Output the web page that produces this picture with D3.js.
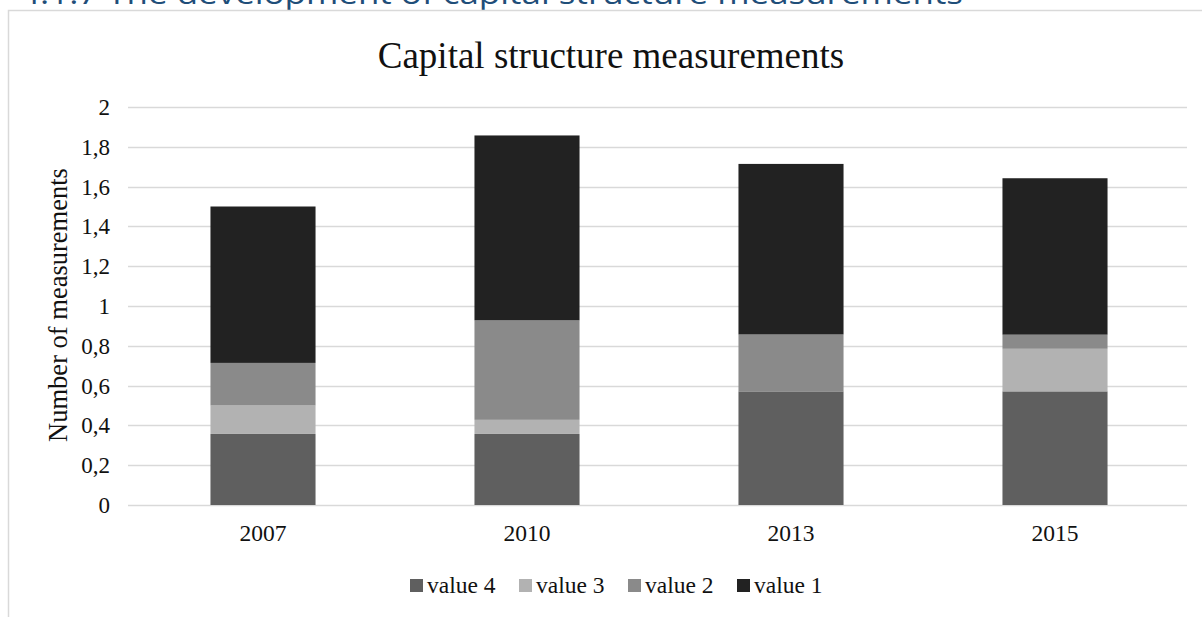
<!DOCTYPE html>
<html>
<head>
<meta charset="utf-8">
<script src="https://cdn.jsdelivr.net/npm/d3@7"></script>
<style>
  html, body { margin: 0; padding: 0; background: #ffffff; }
  svg { display: block; }
</style>
</head>
<body>
<svg id="chart" width="1202" height="617"></svg>
<script>
// ---- data ----
const categories = ["2007", "2010", "2013", "2015"];
const seriesNames = ["value 4", "value 3", "value 2", "value 1"];
const value4 = [0.357, 0.357, 0.571, 0.571];
const value3 = [0.143, 0.071, 0.0, 0.214];
const value2 = [0.214, 0.500, 0.286, 0.071];
const value1 = [0.786, 0.929, 0.857, 0.786];
const yTicks = [0, 0.2, 0.4, 0.6, 0.8, 1, 1.2, 1.4, 1.6, 1.8, 2];
const seriesColors = ["#5f5f5f", "#b2b2b2", "#8a8a8a", "#222222"];

const headingText = "4.1.7   The development of capital structure measurements";
const chartTitle = "Capital structure measurements";
const yAxisTitle = "Number of measurements";

// table for stacking
const table = categories.map((c, i) => ({
  cat: c,
  "value 4": value4[i],
  "value 3": value3[i],
  "value 2": value2[i],
  "value 1": value1[i]
}));

const svg = d3.select("#chart");
const serif = "'Liberation Serif', 'Times New Roman', serif";

// page heading (cut off at top, as in the source page)
svg.append("text")
  .attr("x", 20).attr("y", 4)
  .style("font-family", "'Open Sans', 'Noto Sans', sans-serif")
  .style("font-size", "30px")
  .attr("fill", "#1f4e79")
  .attr("textLength", 943)
  .attr("lengthAdjust", "spacingAndGlyphs")
  .text(headingText);

// chart area border (top + left)
svg.append("rect")
  .attr("x", 8.5).attr("y", 10.5)
  .attr("width", 1300).attr("height", 700)
  .attr("fill", "#ffffff")
  .attr("stroke", "#d9d9d9").attr("stroke-width", 1.5);

const plot = { left: 131, right: 1187, top: 107, bottom: 505 };

const x = d3.scaleBand()
  .domain(categories)
  .range([plot.left, plot.right])
  .paddingInner(0.602)
  .paddingOuter(0.301);

const y = d3.scaleLinear()
  .domain([0, 2])
  .range([plot.bottom, plot.top]);

const color = d3.scaleOrdinal().domain(seriesNames).range(seriesColors);

// gridlines
svg.append("g")
  .selectAll("line")
  .data(yTicks)
  .join("line")
  .attr("x1", plot.left - 3).attr("x2", plot.right)
  .attr("y1", d => Math.round(y(d)) + 0.5)
  .attr("y2", d => Math.round(y(d)) + 0.5)
  .attr("stroke", "#d9d9d9")
  .attr("stroke-width", 1.5);

// y axis tick labels
const yAxis = d3.axisLeft(y)
  .tickValues(yTicks)
  .tickSize(0)
  .tickPadding(0)
  .tickFormat(d => d3.format("~g")(d).replace(".", ","));

const gy = svg.append("g")
  .attr("transform", `translate(110,0)`)
  .call(yAxis);
gy.attr("font-family", null).attr("font-size", null);
gy.select(".domain").remove();
gy.selectAll("text")
  .style("font-family", serif)
  .style("font-size", "23px")
  .attr("fill", "#111")
  .attr("dy", "0.33em");

// stacked bars
const stack = d3.stack().keys(seriesNames);
const stacked = stack(table);

svg.append("g")
  .selectAll("g")
  .data(stacked)
  .join("g")
  .attr("fill", d => color(d.key))
  .selectAll("rect")
  .data(d => d)
  .join("rect")
  .attr("x", d => x(d.data.cat))
  .attr("width", x.bandwidth())
  .attr("y", d => y(d[1]))
  .attr("height", d => Math.max(0, y(d[0]) - y(d[1])));

// x axis labels
const xAxis = d3.axisBottom(x).tickSize(0).tickPadding(0);
const gx = svg.append("g")
  .attr("transform", `translate(0,${plot.bottom})`)
  .call(xAxis);
gx.attr("font-family", null).attr("font-size", null);
gx.select(".domain").remove();
gx.selectAll("text")
  .style("font-family", serif)
  .style("font-size", "23.5px")
  .attr("fill", "#111")
  .attr("dy", 0)
  .attr("y", 36);

// chart title
svg.append("text")
  .attr("x", 611).attr("y", 68)
  .attr("text-anchor", "middle")
  .style("font-family", serif)
  .style("font-size", "37px")
  .attr("fill", "#111")
  .text(chartTitle);

// y axis title
svg.append("text")
  .attr("transform", "translate(67,305) rotate(-90)")
  .attr("text-anchor", "middle")
  .style("font-family", serif)
  .style("font-size", "26.5px")
  .attr("fill", "#111")
  .text(yAxisTitle);

// legend
const legendX = d3.scalePoint().domain(seriesNames).range([410, 737]);
const lg = svg.append("g")
  .selectAll("g")
  .data(seriesNames)
  .join("g")
  .attr("transform", d => `translate(${legendX(d)},579)`);
lg.append("rect")
  .attr("width", 13).attr("height", 13)
  .attr("fill", d => color(d));
lg.append("text")
  .attr("x", 17).attr("y", 14)
  .style("font-family", serif)
  .style("font-size", "23.5px")
  .attr("fill", "#111")
  .text(d => d);
</script>
</body>
</html>
